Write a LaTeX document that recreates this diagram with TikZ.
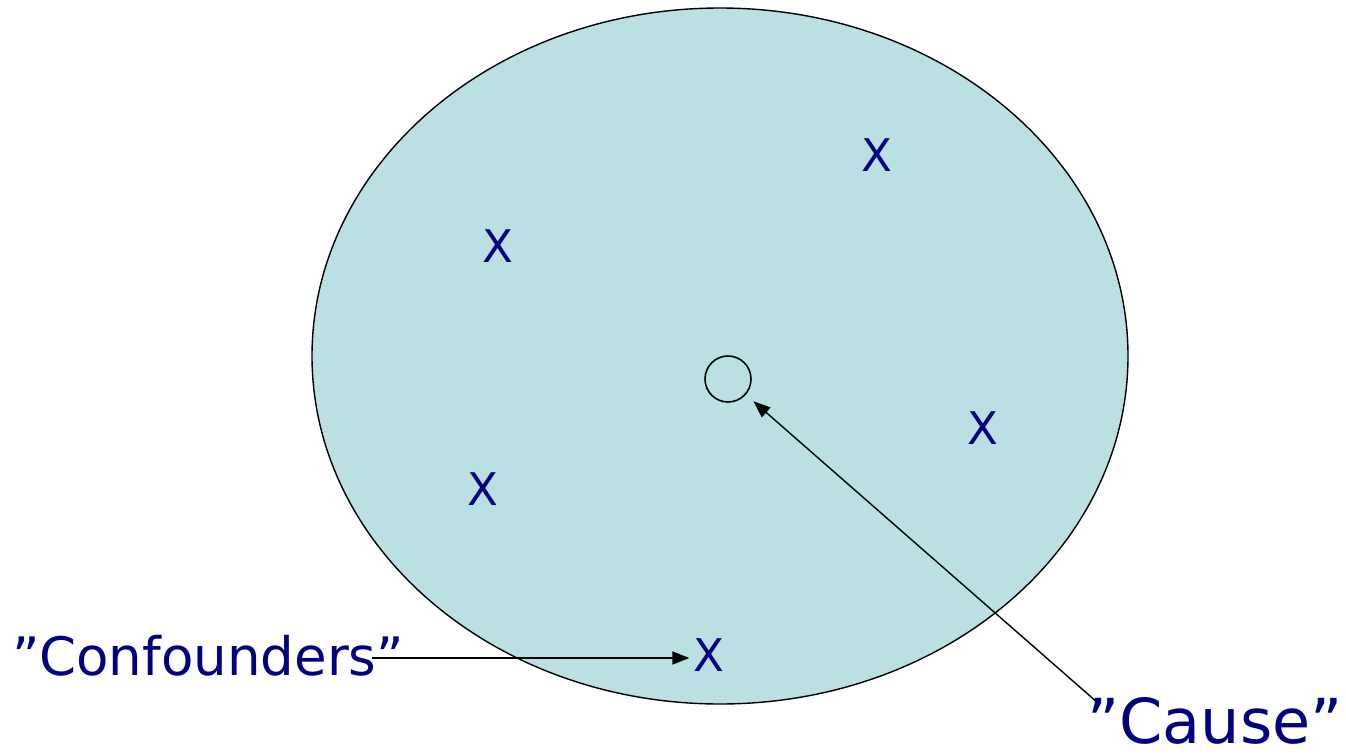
\documentclass[tikz,border=0pt]{standalone}
\usepackage{fontspec}
\setmainfont{DejaVu Sans}
\usetikzlibrary{arrows.meta}

\definecolor{poolfill}{RGB}{187,224,227}
\definecolor{textnavy}{RGB}{0,0,128}

\begin{document}
\begin{tikzpicture}[
    x=1pt, y=-1pt,
    crossmark/.style={
        text=textnavy,
        inner sep=0pt,
        font=\fontsize{45}{48}\selectfont
    },
    quotetext/.style={
        text=textnavy,
        inner sep=0pt
    },
    arrow/.style={-{Triangle[length=17pt,width=13pt]}, line width=1.4pt}
]
\useasboundingbox (0,0) rectangle (1346,755);

% ------------------------
% Population (ellipse)
% ------------------------
\draw[fill=poolfill, line width=1.4pt] (720,356) ellipse [x radius=408, y radius=348];

% small circle in the middle
\node (circ) [draw, circle, minimum size=46pt, inner sep=0pt, line width=1.6pt] at (728,379) {};

% ------------------------
% Confounders
% ------------------------
\node (x1) [crossmark] at (877,155) {X};
\node (x2) [crossmark] at (498,246) {X};
\node (x3) [crossmark] at (983,428) {X};
\node (x4) [crossmark] at (483,489) {X};
\node (x5) [crossmark] at (709,655) {X};

% ------------------------
% Labels
% ------------------------
\node (conf) [quotetext, font=\fontsize{53}{56}\selectfont] at (208,656) {”Confounders”};
\coordinate (confend) at (372,658);

\node (cause) [quotetext, font=\fontsize{62}{66}\selectfont] at (1215,721) {”Cause”};
\coordinate (causeend) at (1098,703);

% ------------------------
% Arrows
% ------------------------
\draw[arrow] (confend) -- ([xshift=-4pt]confend -| x5.west);
\draw[arrow, shorten >=10pt] (causeend) -- (circ);

\end{tikzpicture}
\end{document}
